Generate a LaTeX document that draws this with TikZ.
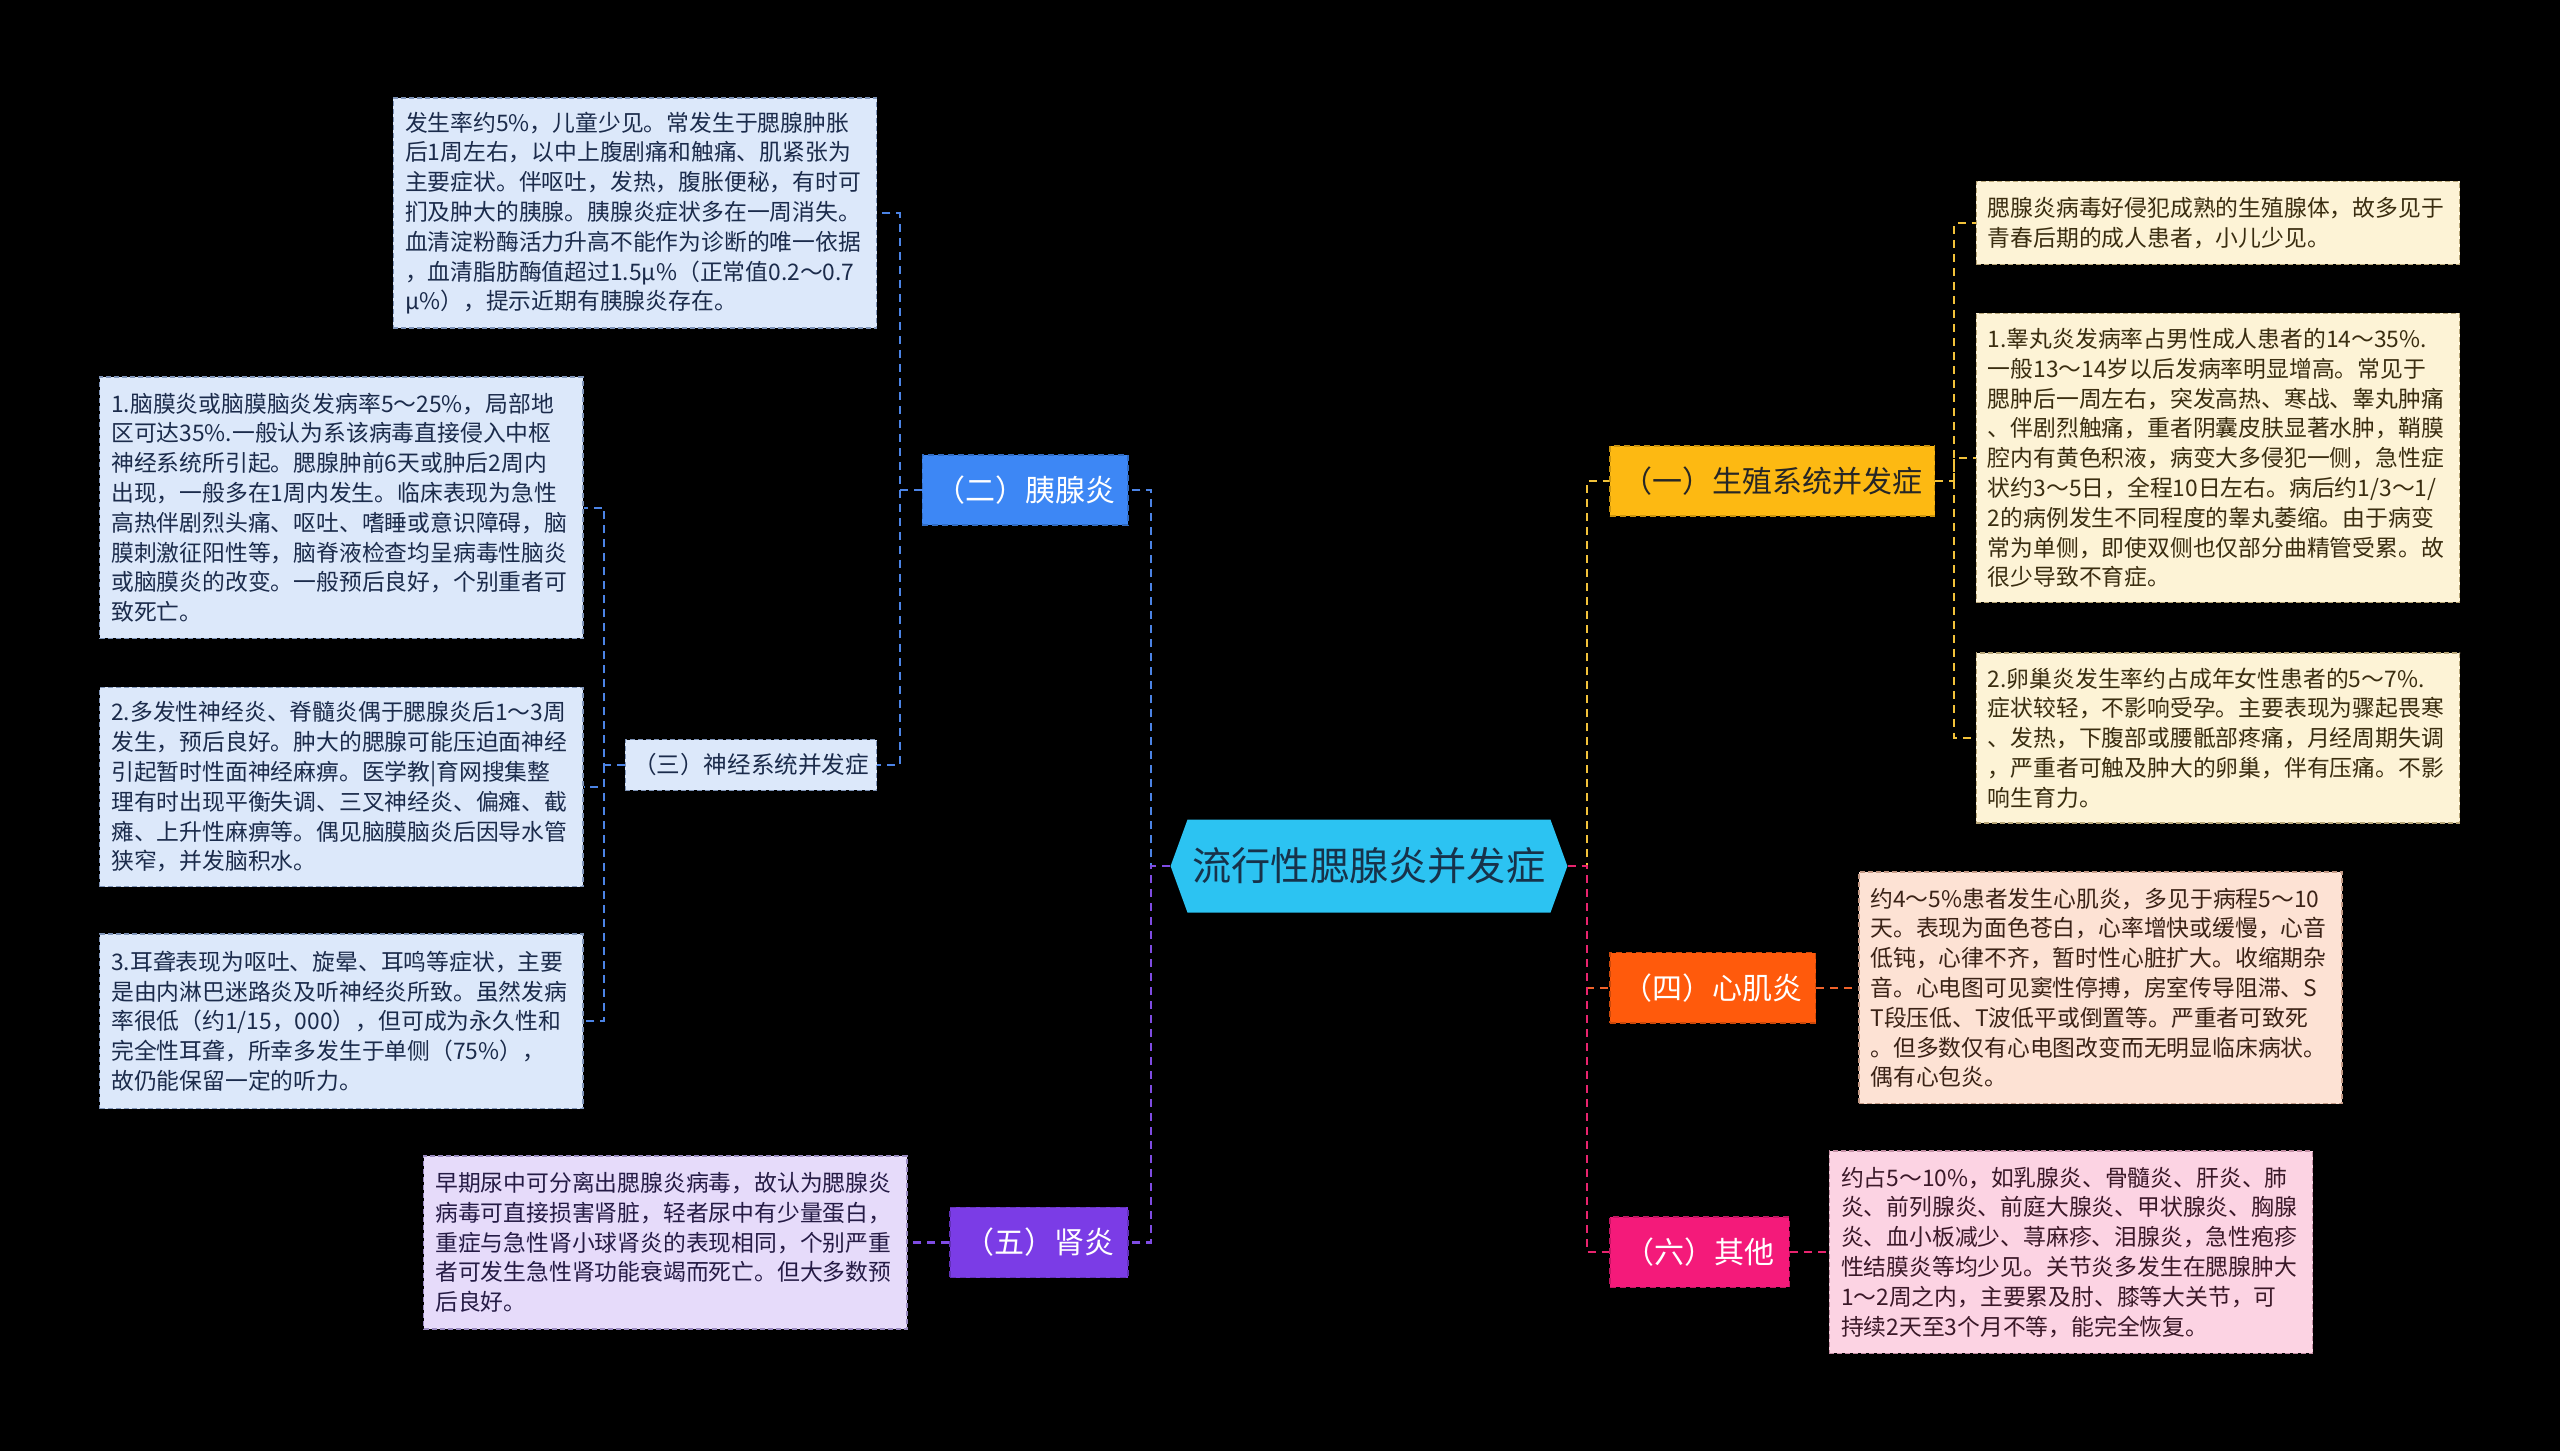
\documentclass[tikz,border=0pt]{standalone}
\usepackage{fontspec}
\newfontfamily\cjk{Noto Sans CJK SC}
\usetikzlibrary{shapes.symbols}
\definecolor{cfill}{HTML}{2CC3F2}
\definecolor{ctext}{HTML}{17324A}
\definecolor{bblue}{HTML}{3D87F5}
\definecolor{cblue}{HTML}{4C84E6}
\definecolor{byel}{HTML}{FDB912}
\definecolor{cyel}{HTML}{F2C23A}
\definecolor{borg}{HTML}{FF5A0C}
\definecolor{corg}{HTML}{F0622A}
\definecolor{bpink}{HTML}{F41A7A}
\definecolor{cpink}{HTML}{E8246E}
\definecolor{bpur}{HTML}{7B3CE6}
\definecolor{cpur}{HTML}{7F4CE3}
\definecolor{lbfill}{HTML}{DCE8FA}
\definecolor{lbline}{HTML}{7F94B8}
\definecolor{lbtext}{HTML}{1B2B4B}
\definecolor{lyfill}{HTML}{FDF3D6}
\definecolor{lyline}{HTML}{B8A678}
\definecolor{lytext}{HTML}{3A2D10}
\definecolor{lofill}{HTML}{FDE2D4}
\definecolor{loline}{HTML}{C49A86}
\definecolor{lotext}{HTML}{3A2216}
\definecolor{lpfill}{HTML}{FCD3E3}
\definecolor{lpline}{HTML}{C48FA5}
\definecolor{lptext}{HTML}{3A1828}
\definecolor{lvfill}{HTML}{E6DBFA}
\definecolor{lvline}{HTML}{9A8BC0}
\definecolor{lvtext}{HTML}{251B45}
\begin{document}
\begin{tikzpicture}[x=0.8163pt,y=-0.8163pt,
  centernode/.style={shape=signal, signal to=west and east, signal pointer angle=140,
    fill=cfill, text=ctext, minimum width=198.4pt, minimum height=46.5pt, inner sep=0pt,
    font=\cjk\fontsize{19.6pt}{22pt}\selectfont},
  branch/.style={draw, dash pattern=on 3pt off 2pt, line width=0.8pt, minimum height=35.1pt,
    inner sep=0pt, font=\cjk\fontsize{15pt}{17pt}\selectfont},
  leaf/.style={draw, dash pattern=on 2.5pt off 1.5pt, line width=0.7pt, inner xsep=5.8pt,
    inner ysep=0pt, text width=230pt, align=left,
    font=\cjk\fontsize{11.4pt}{14.9pt}\selectfont},
  leafb/.style={leaf, fill=lbfill, draw=lbline, text=lbtext},
  leafy/.style={leaf, fill=lyfill, draw=lyline, text=lytext},
  leafo/.style={leaf, fill=lofill, draw=loline, text=lotext},
  leafp/.style={leaf, fill=lpfill, draw=lpline, text=lptext},
  leafv/.style={leaf, fill=lvfill, draw=lvline, text=lvtext},
  conn/.style={dash pattern=on 4pt off 3pt, line width=1.1pt}
]
\fill[black] (0,0) rectangle (1568,889);
\useasboundingbox (0,0) rectangle (1568,889);

% center
\node[centernode] (c) at (838.5,530.5) {流行性腮腺炎并发症};

% branches
\node[branch, fill=byel, draw=byel!80!black, text=black!85, minimum width=162.4pt] (b1) at (1085.5,294.5) {（一）生殖系统并发症};
\node[branch, fill=borg, draw=borg!80!black, text=white, minimum width=102.9pt] (b4) at (1049,605) {（四）心肌炎};
\node[branch, fill=bpink, draw=bpink!80!black, text=white, minimum width=89.8pt] (b6) at (1041,767) {（六）其他};
\node[branch, fill=bblue, draw=bblue!80!black, text=white, minimum width=102.9pt] (b2) at (628,300) {（二）胰腺炎};
\node[branch, fill=bpur, draw=bpur!80!black, text=white, minimum width=89pt] (b5) at (636.5,761) {（五）肾炎};
\node[draw, dash pattern=on 2.5pt off 1.5pt, line width=0.7pt, fill=lbfill, draw=lbline, text=lbtext,
  minimum width=125.7pt, minimum height=25.3pt, inner sep=0pt,
  font=\cjk\fontsize{11.8pt}{14pt}\selectfont] (b3) at (460,468.5) {（三）神经系统并发症};

% left leaves
\node[leafb, minimum height=115.1pt] (L0) at (389,130.5) {发生率约5\%，儿童少见。常发生于腮腺肿胀\\后1周左右，以中上腹剧痛和触痛、肌紧张为\\主要症状。伴呕吐，发热，腹胀便秘，有时可\\扪及肿大的胰腺。胰腺炎症状多在一周消失。\\血清淀粉酶活力升高不能作为诊断的唯一依据\\，血清脂肪酶值超过1.5μ\%（正常值0.2～0.7\\μ\%），提示近期有胰腺炎存在。};
\node[leafb, minimum height=130.6pt] (L1) at (209,311) {1.脑膜炎或脑膜脑炎发病率5～25\%，局部地\\区可达35\%.一般认为系该病毒直接侵入中枢\\神经系统所引起。腮腺肿前6天或肿后2周内\\出现，一般多在1周内发生。临床表现为急性\\高热伴剧烈头痛、呕吐、嗜睡或意识障碍，脑\\膜刺激征阳性等，脑脊液检查均呈病毒性脑炎\\或脑膜炎的改变。一般预后良好，个别重者可\\致死亡。};
\node[leafb, minimum height=99.6pt] (L2) at (209,482) {2.多发性神经炎、脊髓炎偶于腮腺炎后1～3周\\发生，预后良好。肿大的腮腺可能压迫面神经\\引起暂时性面神经麻痹。医学教|育网搜集整\\理有时出现平衡失调、三叉神经炎、偏瘫、截\\瘫、上升性麻痹等。偶见脑膜脑炎后因导水管\\狭窄，并发脑积水。};
\node[leafb, minimum height=87.3pt] (L3) at (209,625.5) {3.耳聋表现为呕吐、旋晕、耳鸣等症状，主要\\是由内淋巴迷路炎及听神经炎所致。虽然发病\\率很低（约1/15，000），但可成为永久性和\\完全性耳聋，所幸多发生于单侧（75\%），\\故仍能保留一定的听力。};
\node[leafv, minimum height=86.5pt] (P) at (407.5,761) {早期尿中可分离出腮腺炎病毒，故认为腮腺炎\\病毒可直接损害肾脏，轻者尿中有少量蛋白，\\重症与急性肾小球肾炎的表现相同，个别严重\\者可发生急性肾功能衰竭而死亡。但大多数预\\后良好。};

% right leaves
\node[leafy, minimum height=41.6pt] (Y1) at (1358.5,136.5) {腮腺炎病毒好侵犯成熟的生殖腺体，故多见于\\青春后期的成人患者，小儿少见。};
\node[leafy, minimum height=144.5pt] (Y2) at (1358.5,280.5) {1.睾丸炎发病率占男性成人患者的14～35\%.\\一般13～14岁以后发病率明显增高。常见于\\腮肿后一周左右，突发高热、寒战、睾丸肿痛\\、伴剧烈触痛，重者阴囊皮肤显著水肿，鞘膜\\腔内有黄色积液，病变大多侵犯一侧，急性症\\状约3～5日，全程10日左右。病后约1/3～1/\\2的病例发生不同程度的睾丸萎缩。由于病变\\常为单侧，即使双侧也仅部分曲精管受累。故\\很少导致不育症。};
\node[leafy, minimum height=84.9pt] (Y3) at (1358.5,452) {2.卵巢炎发生率约占成年女性患者的5～7\%.\\症状较轻，不影响受孕。主要表现为骤起畏寒\\、发热，下腹部或腰骶部疼痛，月经周期失调\\，严重者可触及肿大的卵巢，伴有压痛。不影\\响生育力。};
\node[leafo, minimum height=115.9pt] (O) at (1286.5,605) {约4～5\%患者发生心肌炎，多见于病程5～10\\天。表现为面色苍白，心率增快或缓慢，心音\\低钝，心律不齐，暂时性心脏扩大。收缩期杂\\音。心电图可见窦性停搏，房室传导阻滞、S\\T段压低、T波低平或倒置等。严重者可致死\\。但多数仅有心电图改变而无明显临床病状。\\偶有心包炎。};
\node[leafp, minimum height=101.2pt] (K) at (1268.5,767) {约占5～10\%，如乳腺炎、骨髓炎、肝炎、肺\\炎、前列腺炎、前庭大腺炎、甲状腺炎、胸腺\\炎、血小板减少、荨麻疹、泪腺炎，急性疱疹\\性结膜炎等均少见。关节炎多发生在腮腺肿大\\1～2周之内，主要累及肘、膝等大关节，可\\持续2天至3个月不等，能完全恢复。};

% spine coordinates
\coordinate (lsp) at (705,530.5);
\coordinate (rsp) at (972,530.5);
\coordinate (b2s) at (551,300);
\coordinate (b3s) at (370,468.5);
\coordinate (b1s) at (1197,294.5);

% connectors
\draw[conn, cblue] (c.west) -- (lsp) |- (b2.east);
\draw[conn, cpur] (c.west) -- (lsp) |- (b5.east);
\draw[conn, cyel] (c.east) -- (rsp) |- (b1.west);
\draw[conn, corg] (c.east) -- (rsp) |- (b4.west);
\draw[conn, cpink] (c.east) -- (rsp) |- (b6.west);

\draw[conn, cblue] (b2.west) -- (b2s) |- (L0.east);
\draw[conn, cblue] (b2s) |- (b3.east);
\draw[conn, cblue] (b3.west) -- (b3s) |- (L1.east);
\draw[conn, cblue] (b3s) |- (L2.east);
\draw[conn, cblue] (b3s) |- (L3.east);
\draw[conn, cpur] (b5.west) -- (P.east);

\draw[conn, cyel] (b1.east) -- (b1s) |- (Y1.west);
\draw[conn, cyel] (b1s) |- (Y2.west);
\draw[conn, cyel] (b1s) |- (Y3.west);
\draw[conn, corg] (b4.east) -- (O.west);
\draw[conn, cpink] (b6.east) -- (K.west);
\end{tikzpicture}
\end{document}
